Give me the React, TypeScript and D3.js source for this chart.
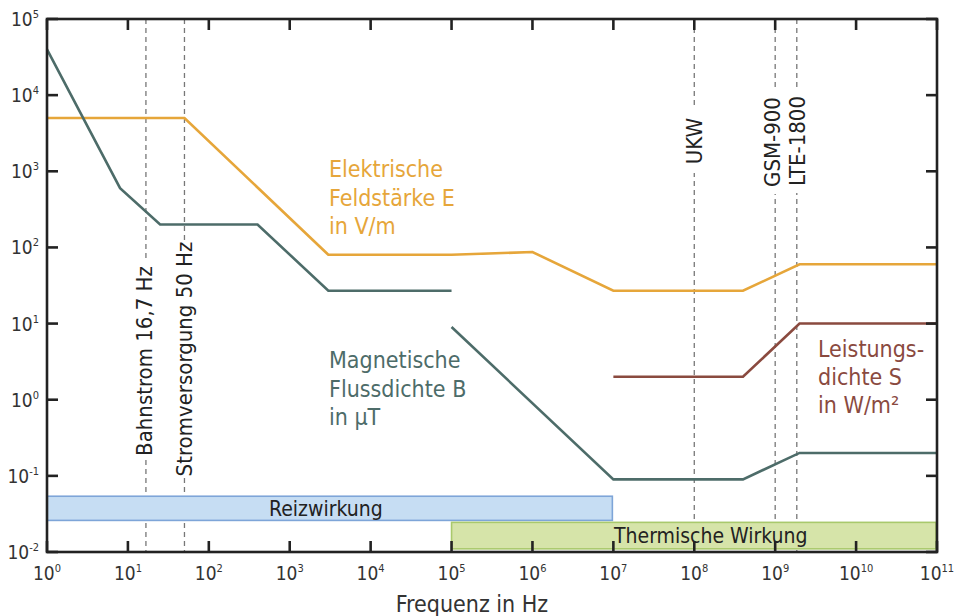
import React from "react";
import * as d3 from "d3";

const X_EXPONENTS = [0, 1, 2, 3, 4, 5, 6, 7, 8, 9, 10, 11];
const Y_EXPONENTS = [-2, -1, 0, 1, 2, 3, 4, 5];

// Elektrische Feldstärke E in V/m
const freqE = [1, 50, 3000, 1e5, 1e6, 1e7, 4e8, 2e9, 1e11];
const valE = [5000, 5000, 80, 80, 87, 27, 27, 60, 60];
// Magnetische Flussdichte B in µT (two segments)
const freqB1 = [1, 8, 25, 400, 3000, 1e5];
const valB1 = [4e4, 600, 200, 200, 27, 27];
const freqB2 = [1e5, 1e7, 4e8, 2e9, 1e11];
const valB2 = [9, 0.09, 0.09, 0.2, 0.2];
// Leistungsdichte S in W/m²
const freqS = [1e7, 4e8, 2e9, 1e11];
const valS = [2, 2, 10, 10];

// marker frequencies
const markerFreqs = [16.7, 50, 1e8, 1e9, 1.85e9];
const markerLabels = ["Bahnstrom 16,7 Hz", "Stromversorgung 50 Hz", "UKW", "GSM-900", "LTE-1800"];

// effect bands
const bandNames = ["Reizwirkung", "Thermische Wirkung"];
const bandFrom = [1, 1e5];
const bandTo = [1e7, 1e11];
const bandHigh = [0.054, 0.0245];
const bandLow = [0.026, 0.011];
const bandLabelFreq = [2.8e3, 1.6e8];

const W = 960;
const H = 616;
const FONT = "'Liberation Sans Narrow', 'DejaVu Sans Condensed', 'Roboto', sans-serif";

const C_E = "#e6a63a";
const C_B = "#4d6c69";
const C_S = "#8a4a3f";

export default function App() {
  const x = d3.scaleLog().domain([1, 1e11]).range([47, 937]);
  const y = d3.scaleLog().domain([1e-2, 1e5]).range([552, 19]);

  const line = d3
    .line<[number, number]>()
    .x((d) => x(d[0]))
    .y((d) => y(d[1]));

  const zip = (f: number[], v: number[]) => f.map((fi, i) => [fi, v[i]] as [number, number]);

  const [x0, x1] = x.range();
  const [yb, yt] = y.range();

  // vertical label centres in pixel space (y) and white box lengths
  const labelCenterY = [361, 359, 141, 142, 141];
  const labelW = [198, 236, 64, 104, 104];

  return (
    <svg width={W} height={H} style={{ display: "block", position: "absolute", left: 0, top: 0 }} fontFamily={FONT}>
      <rect x={0} y={0} width={W} height={H} fill="#fff" />
      {/* dashed marker lines */}
      {markerFreqs.map((f, i) => (
        <line key={"m" + i} x1={x(f)} x2={x(f)} y1={yt} y2={yb} stroke="#777" strokeWidth={1.3} strokeDasharray="5,4" />
      ))}
      {/* label backgrounds + labels */}
      {markerFreqs.map((f, i) => {
        const cx = x(f) + (i === 3 ? -3 : i === 0 ? -2 : 0);
        const cy = labelCenterY[i];
        return (
          <g key={"ml" + i} transform={`translate(${cx},${cy}) rotate(-90)`}>
            <rect x={-labelW[i] / 2} y={-13} width={labelW[i]} height={26} fill="#fff" />
            <text x={0} y={0} dy="0.36em" textAnchor="middle" fontSize={22} fill="#222">
              {markerLabels[i]}
            </text>
          </g>
        );
      })}
      {/* bands */}
      {bandNames.map((n, i) => (
        <g key={"b" + i}>
          <rect
            x={x(bandFrom[i])}
            y={y(bandHigh[i])}
            width={x(bandTo[i]) - x(bandFrom[i]) - 1}
            height={y(bandLow[i]) - y(bandHigh[i])}
            fill={i === 0 ? "#c6ddf3" : "#d6e4a9"}
            stroke={i === 0 ? "#7ea5d8" : "#a9c96c"}
            strokeWidth={1.6}
          />
          <text
            x={x(bandLabelFreq[i])}
            y={(y(bandLow[i]) + y(bandHigh[i])) / 2}
            dy="0.36em"
            textAnchor="middle"
            fontSize={21}
            fill="#222"
          >
            {n}
          </text>
        </g>
      ))}
      {/* curves */}
      <path d={line(zip(freqE, valE)) || ""} fill="none" stroke={C_E} strokeWidth={2.6} />
      <path d={line(zip(freqB1, valB1)) || ""} fill="none" stroke={C_B} strokeWidth={2.6} />
      <path d={line(zip(freqB2, valB2)) || ""} fill="none" stroke={C_B} strokeWidth={2.6} />
      <path d={line(zip(freqS, valS)) || ""} fill="none" stroke={C_S} strokeWidth={2.6} />

      {/* series labels */}
      <text fontSize={23} fill={C_E}>
        <tspan x={329} y={177}>Elektrische</tspan>
        <tspan x={329} y={206}>Feldstärke E</tspan>
        <tspan x={329} y={234}>in V/m</tspan>
      </text>
      <text fontSize={23} fill={C_B}>
        <tspan x={329} y={368}>Magnetische</tspan>
        <tspan x={329} y={397}>Flussdichte B</tspan>
        <tspan x={329} y={425}>in µT</tspan>
      </text>
      <text fontSize={23} fill={C_S}>
        <tspan x={818} y={357}>Leistungs-</tspan>
        <tspan x={818} y={385}>dichte S</tspan>
        <tspan x={818} y={413}>in W/m²</tspan>
      </text>

      {/* frame */}
      <rect x={x0} y={yt} width={x1 - x0} height={yb - yt} fill="none" stroke="#222" strokeWidth={2.6} />
      {/* x ticks */}
      {X_EXPONENTS.map((e) => {
        const px = x(Math.pow(10, e));
        return (
          <g key={"xt" + e}>
            <line x1={px} x2={px} y1={yb} y2={yb - 11} stroke="#222" strokeWidth={2.6} />
            <line x1={px} x2={px} y1={yt} y2={yt + 11} stroke="#222" strokeWidth={2.6} />
            <text x={px} y={580} textAnchor="middle" fontSize={19} fill="#333">
              10
              <tspan dy={-8} fontSize={11}>
                {e}
              </tspan>
            </text>
          </g>
        );
      })}
      {/* y ticks */}
      {Y_EXPONENTS.map((e) => {
        const py = y(Math.pow(10, e));
        return (
          <g key={"yt" + e}>
            <line x1={x0} x2={x0 + 11} y1={py} y2={py} stroke="#222" strokeWidth={2.6} />
            <line x1={x1} x2={x1 - 11} y1={py} y2={py} stroke="#222" strokeWidth={2.6} />
            <text x={39} y={py + 7} textAnchor="end" fontSize={19} fill="#333">
              10
              <tspan dy={-8} fontSize={11}>
                {e}
              </tspan>
            </text>
          </g>
        );
      })}
      <text x={472} y={612} textAnchor="middle" fontSize={23} fill="#333">
        Frequenz in Hz
      </text>
    </svg>
  );
}
